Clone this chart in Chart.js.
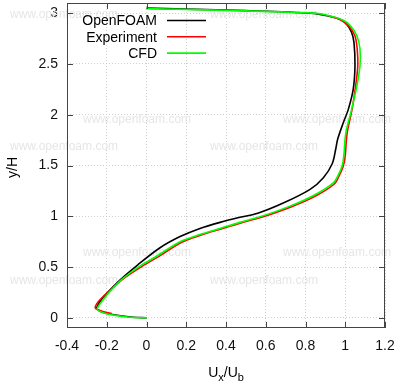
<!DOCTYPE html>
<html>
<head>
<meta charset="utf-8">
<script src="https://cdn.jsdelivr.net/npm/chart.js@4/dist/chart.umd.min.js"></script>
<style>
  body { margin: 0; background: #fff; }
  canvas { display: block; }
</style>
</head>
<body>
<canvas id="myChart" width="400" height="384"></canvas>
<script>
// axis ticks
const xTicks = [-0.4, -0.2, 0, 0.2, 0.4, 0.6, 0.8, 1, 1.2];
const yTicks = [0, 0.5, 1, 1.5, 2, 2.5, 3];

const seriesNames = ['OpenFOAM', 'Experiment', 'CFD'];
const seriesColors = ['#000000', '#ff0000', '#00ff00'];

// OpenFOAM profile (Ux/Ub, y/H)
const openfoamX = [0, -0.08, -0.18, -0.225, -0.25, -0.238, -0.205, -0.135, -0.045, 0.068, 0.169, 0.269, 0.37, 0.47, 0.56, 0.688, 0.823, 0.89, 0.935, 0.952, 0.962, 0.99, 1.015, 1.04, 1.049, 1.044, 1.032, 1.007, 0.974, 0.923, 0.823, 0.5, 0.2, 0];
const openfoamY = [0, 0.008, 0.035, 0.058, 0.092, 0.15, 0.23, 0.37, 0.52, 0.69, 0.80, 0.88, 0.94, 0.99, 1.03, 1.13, 1.265, 1.38, 1.52, 1.66, 1.76, 1.92, 2.05, 2.25, 2.48, 2.71, 2.81, 2.89, 2.94, 2.97, 3.0, 3.025, 3.04, 3.05];

// Experiment
const expX = [-0.175, -0.215, -0.25, -0.258, -0.25, -0.228, -0.19, -0.12, -0.028, 0.058, 0.175, 0.275, 0.375, 0.475, 0.57, 0.73, 0.86, 0.946, 0.972, 0.991, 1.0, 1.006, 1.013, 1.034, 1.052, 1.063, 1.06, 1.048, 1.015, 0.975, 0.92];
const expY = [0.043, 0.06, 0.085, 0.1, 0.14, 0.19, 0.26, 0.38, 0.5, 0.6, 0.742, 0.815, 0.875, 0.935, 0.985, 1.095, 1.21, 1.32, 1.41, 1.50, 1.60, 1.76, 1.86, 2.05, 2.28, 2.48, 2.65, 2.78, 2.88, 2.935, 2.97];

// CFD
const cfdX = [0, -0.083, -0.184, -0.225, -0.248, -0.24, -0.217, -0.184, -0.117, -0.033, 0.051, 0.169, 0.269, 0.37, 0.47, 0.563, 0.722, 0.845, 0.94, 0.966, 0.985, 0.993, 0.999, 1.007, 1.032, 1.058, 1.074, 1.074, 1.058, 1.024, 0.99, 0.92, 0.84, 0.5, 0.2, 0];
const cfdY = [0, 0.006, 0.033, 0.055, 0.082, 0.12, 0.18, 0.26, 0.39, 0.51, 0.607, 0.75, 0.82, 0.88, 0.94, 0.99, 1.10, 1.21, 1.33, 1.41, 1.50, 1.60, 1.76, 1.86, 2.05, 2.28, 2.48, 2.65, 2.78, 2.88, 2.93, 2.975, 3.0, 3.022, 3.037, 3.045];

const toPoints = (xs, ys) => xs.map((v, i) => ({ x: v, y: ys[i] }));
const allSeries = [toPoints(openfoamX, openfoamY), toPoints(expX, expY), toPoints(cfdX, cfdY)];

const FONT = '"Liberation Sans", Arial, sans-serif';

const watermark = {
  id: 'watermark',
  beforeDatasetsDraw(chart) {
    const ctx = chart.ctx;
    ctx.save();
    ctx.font = '12px ' + FONT;
    ctx.fillStyle = '#e6e6e6';
    ctx.textBaseline = 'middle';
    const rows = [[15, 10], [120, 83], [147, 10], [253, 83], [281, 10], [393, 83]];
    rows.forEach(([y, x]) => {
      ctx.fillText('www.openfoam.com', x, y);
      ctx.fillText('www.openfoam.com', x + 200, y);
    });
    ctx.restore();
  }
};

const frame = {
  id: 'frame',
  afterDraw(chart) {
    const { ctx, chartArea: a, scales: { x, y } } = chart;
    ctx.save();
    ctx.strokeStyle = '#444444';
    ctx.lineWidth = 1;
    ctx.strokeRect(a.left + 0.5, a.top + 0.5, a.right - a.left - 1, a.bottom - a.top - 1);
    ctx.beginPath();
    xTicks.forEach(v => {
      const px = Math.round(x.getPixelForValue(v)) + 0.5;
      ctx.moveTo(px, a.bottom); ctx.lineTo(px, a.bottom - 6);
      ctx.moveTo(px, a.top); ctx.lineTo(px, a.top + 6);
    });
    yTicks.forEach(v => {
      const py = Math.round(y.getPixelForValue(v)) + 0.5;
      ctx.moveTo(a.left, py); ctx.lineTo(a.left + 6, py);
      ctx.moveTo(a.right, py); ctx.lineTo(a.right - 6, py);
    });
    ctx.stroke();

    // legend: text on the left, sample line on the right
    ctx.font = '14px ' + FONT;
    ctx.fillStyle = '#000';
    ctx.textAlign = 'right';
    ctx.textBaseline = 'middle';
    ctx.lineWidth = 1.6;
    seriesNames.forEach((name, i) => {
      const ly = 20.5 + i * 16.3;
      ctx.fillText(name, 157, ly + 1);
      ctx.strokeStyle = seriesColors[i];
      ctx.beginPath();
      ctx.moveTo(167, ly); ctx.lineTo(206, ly);
      ctx.stroke();
    });

    // axis titles
    ctx.textAlign = 'left';
    ctx.textBaseline = 'alphabetic';
    const parts = [['U', 0], ['x', 1], ['/U', 0], ['b', 1]];
    let w = 0;
    parts.forEach(([t, sub]) => {
      ctx.font = (sub ? '11px ' : '14px ') + FONT;
      w += ctx.measureText(t).width;
    });
    let tx = (a.left + a.right) / 2 - w / 2;
    parts.forEach(([t, sub]) => {
      ctx.font = (sub ? '11px ' : '14px ') + FONT;
      ctx.fillText(t, tx, 377 + (sub ? 4 : 0));
      tx += ctx.measureText(t).width;
    });

    ctx.save();
    ctx.translate(17, (a.top + a.bottom) / 2 + 2);
    ctx.rotate(-Math.PI / 2);
    ctx.font = '14px ' + FONT;
    ctx.textAlign = 'center';
    ctx.fillText('y/H', 0, 0);
    ctx.restore();
    ctx.restore();
  }
};

const ctx = document.getElementById('myChart').getContext('2d');
const myChart = new Chart(ctx, {
  type: 'scatter',
  data: {
    datasets: allSeries.map((pts, i) => ({
      label: seriesNames[i],
      data: pts,
      showLine: true,
      borderColor: seriesColors[i],
      backgroundColor: seriesColors[i],
      borderWidth: 1.6,
      pointRadius: 0,
      tension: 0.3,
      order: 2 - i
    }))
  },
  options: {
    responsive: false,
    animation: false,
    devicePixelRatio: 1,
    layout: { padding: { top: 3, right: 15, left: 0, bottom: 0 } },
    plugins: { legend: { display: false }, tooltip: { enabled: false } },
    scales: {
      x: {
        type: 'linear',
        min: -0.4,
        max: 1.2,
        afterBuildTicks: s => { s.ticks = xTicks.map(v => ({ value: v })); },
        afterFit: s => { s.height = 56; s.paddingLeft = 0; s.paddingRight = 0; },
        ticks: {
          callback: v => String(v),
          font: { family: FONT, size: 14 },
          color: '#111',
          padding: 10,
          maxRotation: 0,
          autoSkip: false
        },
        grid: { color: '#cfcfcf', drawTicks: false },
        border: { display: false, dash: [1, 2] }
      },
      y: {
        type: 'linear',
        min: -0.1,
        max: 3.1,
        afterBuildTicks: s => { s.ticks = yTicks.map(v => ({ value: v })); },
        afterFit: s => { s.width = 67; s.paddingTop = 0; s.paddingBottom = 0; },
        ticks: {
          callback: v => String(v),
          font: { family: FONT, size: 14 },
          color: '#111',
          padding: 9,
          autoSkip: false
        },
        grid: { color: '#cfcfcf', drawTicks: false },
        border: { display: false, dash: [1, 2] }
      }
    }
  },
  plugins: [watermark, frame]
});
</script>
</body>
</html>
